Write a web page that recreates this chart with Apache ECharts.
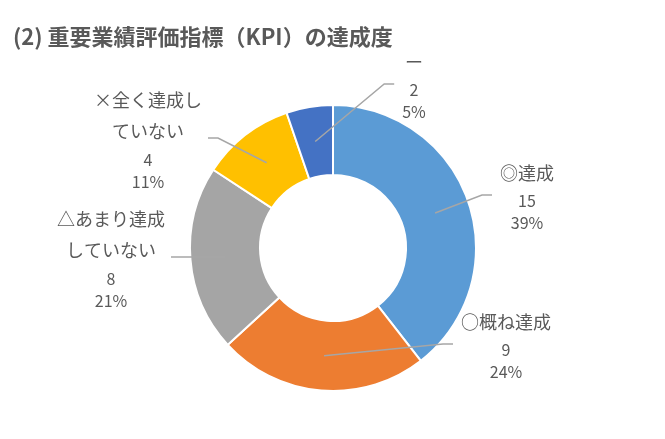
<!DOCTYPE html>
<html><head><meta charset="utf-8">
<script src="https://cdn.jsdelivr.net/npm/echarts@6/dist/echarts.min.js"></script>
<style>html,body{margin:0;padding:0;background:#fff}#c{width:665px;height:439px}</style>
</head><body><div id="c"></div>
<script>
const titleText = '(2) 重要業績評価指標（KPI）の達成度';
const categories = ['◎達成', '○概ね達成', '△あまり達成\nしていない', '×全く達成し\nていない', 'ー'];
const values = [15, 9, 8, 4, 2];
const colors = ['#5B9BD5', '#ED7D31', '#A5A5A5', '#FFC000', '#4472C4'];
// label anchor positions (layout only)
const labelPos = [[527, 195], [506, 344], [111, 257], [148, 138], [414, 84]];
const CENTER = [333, 248], R_IN = 73, R_OUT = 143;
const FONT = '"Noto Sans CJK JP", "Noto Sans", sans-serif';
const TXT = '#595959';

const chart = echarts.init(document.getElementById('c'), null, { renderer: 'canvas' });
chart.setOption({
  animation: false,
  title: { text: titleText, left: 8, top: 21, textStyle: { fontFamily: FONT, fontSize: 22, fontWeight: 'bold', color: TXT } },
  series: [{
    type: 'pie',
    z: 2,
    center: CENTER,
    radius: [R_IN, R_OUT],
    startAngle: 90,
    clockwise: true,
    avoidLabelOverlap: false,
    itemStyle: { borderColor: '#fff', borderWidth: 2 },
    data: categories.map((c, i) => ({ name: c, value: values[i], itemStyle: { color: colors[i] } })),
    label: { show: false },
    labelLine: { show: false }
  }, {
    type: 'pie',
    z: 5,
    silent: true,
    center: CENTER,
    radius: [R_IN, R_OUT],
    startAngle: 90,
    clockwise: true,
    avoidLabelOverlap: false,
    itemStyle: { color: 'rgba(0,0,0,0)', borderWidth: 0 },
    data: categories.map((c, i) => ({ name: c, value: values[i] })),
    label: {
      show: true,
      position: 'outside',
      formatter: p => `{n|${p.name}}\n{v|${p.value}}\n{p|${Math.round(p.percent)}%}`,
      rich: {
        n: { fontFamily: FONT, fontSize: 18, lineHeight: 31, color: TXT, align: 'center' },
        v: { fontFamily: FONT, fontSize: 16, lineHeight: 25, color: TXT, align: 'center' },
        p: { fontFamily: FONT, fontSize: 16, lineHeight: 19, color: TXT, align: 'center' }
      }
    },
    labelLine: { show: true, showAbove: true, lineStyle: { color: '#A6A6A6', width: 1.5 } },
    labelLayout: function (params) {
      const i = params.dataIndex;
      const x = labelPos[i][0], y = labelPos[i][1];
      const w = params.labelRect.width;
      let pts;
      const lp = params.labelLinePoints;
      if (lp && lp[0]) {
        const dx = lp[0][0] - CENTER[0], dy = lp[0][1] - CENTER[1];
        const d = Math.hypot(dx, dy) || 1;
        const rm = (R_IN + R_OUT) / 2;
        const s = [CENTER[0] + dx / d * rm, CENTER[1] + dy / d * rm];
        const isLeft = x < CENTER[0];
        const ex = isLeft ? x + w / 2 + 6 : x - w / 2 - 8;
        pts = [s, [isLeft ? ex + 10 : ex - 10, y], [ex, y]];
      }
      const out = { x: x, y: y, align: 'center', verticalAlign: 'middle' };
      if (pts) out.labelLinePoints = pts;
      return out;
    }
  }]
});
</script>
</body></html>
